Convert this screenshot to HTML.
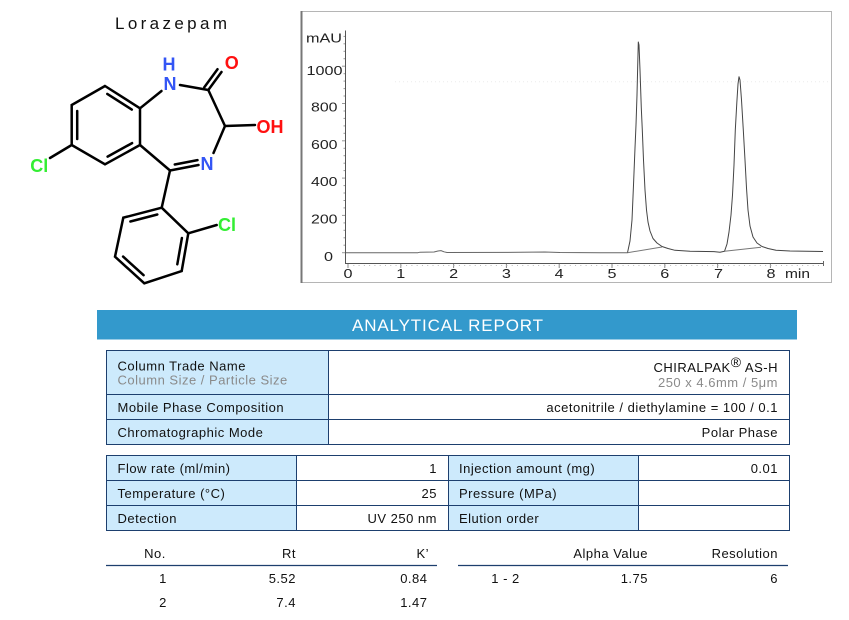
<!DOCTYPE html>
<html>
<head>
<meta charset="utf-8">
<style>
  html,body{margin:0;padding:0;background:#fff;}
  svg{display:block;}
  .t{font-family:"Liberation Sans",Arial,sans-serif;font-size:13px;fill:#111;letter-spacing:0.5px;}
  .g{fill:#8a8a8a;}
  .ax{font-family:"Liberation Sans",Arial,sans-serif;font-size:13px;fill:#222;}
  .at{font-family:"Liberation Sans",Arial,sans-serif;font-size:18px;font-weight:bold;text-anchor:middle;}
</style>
</head>
<body>
<svg width="849" height="620" viewBox="0 0 849 620" xmlns="http://www.w3.org/2000/svg">
  <rect x="0" y="0" width="849" height="620" fill="#fff"/>

  <!-- ===== Molecule ===== -->
  <text x="115" y="29" font-family="Liberation Sans, Arial, sans-serif" font-size="17" fill="#111" textLength="112" lengthAdjust="spacing">Lorazepam</text>
  <g stroke="#000" stroke-width="2.5" stroke-linecap="round" fill="none">
    <!-- benzene fused -->
    <polyline points="105,86 140,108.3 140,145 105,164.3 71.7,145 71.7,105 105,86"/>
    <line x1="107.3" y1="93.9" x2="131.8" y2="109.6"/>
    <line x1="77.2" y1="111" x2="77.2" y2="139"/>
    <line x1="132.1" y1="143.1" x2="107.6" y2="156.6"/>
    <!-- Cl bond -->
    <line x1="71.7" y1="145" x2="50" y2="158"/>
    <!-- 7-ring -->
    <line x1="140" y1="108.3" x2="161.5" y2="91"/>
    <line x1="180" y1="85" x2="208.3" y2="90"/>
    <line x1="208.3" y1="90" x2="221.5" y2="72"/>
    <line x1="204.3" y1="87.2" x2="217.5" y2="69.2"/>
    <line x1="208.3" y1="90" x2="225" y2="126"/>
    <line x1="225" y1="126" x2="255" y2="125"/>
    <line x1="225" y1="126" x2="213.5" y2="153"/>
    <line x1="198.5" y1="165" x2="170" y2="170.5"/>
    <line x1="197.5" y1="160.1" x2="174.8" y2="164.5"/>
    <line x1="170" y1="170.5" x2="140" y2="145"/>
    <!-- to phenyl -->
    <line x1="170" y1="170.5" x2="161.7" y2="207.7"/>
    <!-- phenyl -->
    <polyline points="161.7,207.7 188.3,233.3 181.7,271 144.3,283.3 115,256.7 123.3,217.7 161.7,207.7"/>
    <line x1="157.3" y1="214.5" x2="130.4" y2="221.5"/>
    <line x1="181.9" y1="238" x2="177.3" y2="264.3"/>
    <line x1="143.6" y1="275.2" x2="123.1" y2="256.6"/>
    <line x1="188.3" y1="233.3" x2="216.7" y2="225"/>
  </g>
  <text class="at" x="169" y="70.5" fill="#3355f5">H</text>
  <text class="at" x="170" y="89.8" fill="#3355f5">N</text>
  <text class="at" x="231.7" y="68.8" fill="#ff1010">O</text>
  <text class="at" x="270" y="133.2" fill="#ff1010">OH</text>
  <text class="at" x="207" y="169.8" fill="#3355f5">N</text>
  <text class="at" x="39.3" y="172.2" fill="#33ee33">Cl</text>
  <text class="at" x="227" y="230.8" fill="#33ee33">Cl</text>

  <!-- ===== Chromatogram ===== -->
  <rect x="301.5" y="11.5" width="530" height="271" fill="#fff" stroke="#b5b5b5" stroke-width="1"/>
  <line x1="301.5" y1="11" x2="301.5" y2="283" stroke="#777" stroke-width="2"/>
  <line x1="395" y1="81.7" x2="831" y2="81.7" stroke="#ececec" stroke-width="1" stroke-dasharray="1,3"/>

  <!-- axes -->
  <line x1="345.5" y1="30.5" x2="345.5" y2="263.5" stroke="#555" stroke-width="1"/>
  <line x1="345" y1="263.5" x2="823.5" y2="263.5" stroke="#555" stroke-width="1"/>
  <line x1="823.5" y1="261" x2="823.5" y2="266" stroke="#666" stroke-width="1"/>
  <!-- y ticks -->
  <g stroke="#999" stroke-width="1">
    <line x1="342" y1="252.7" x2="345" y2="252.7"/>
    <line x1="343.5" y1="245.2" x2="345" y2="245.2"/>
    <line x1="343.5" y1="237.8" x2="345" y2="237.8"/>
    <line x1="343.5" y1="230.3" x2="345" y2="230.3"/>
    <line x1="343.5" y1="222.9" x2="345" y2="222.9"/>
    <line x1="342" y1="215.4" x2="345" y2="215.4"/>
    <line x1="343.5" y1="207.9" x2="345" y2="207.9"/>
    <line x1="343.5" y1="200.5" x2="345" y2="200.5"/>
    <line x1="343.5" y1="193" x2="345" y2="193"/>
    <line x1="343.5" y1="185.6" x2="345" y2="185.6"/>
    <line x1="342" y1="178.1" x2="345" y2="178.1"/>
    <line x1="343.5" y1="170.6" x2="345" y2="170.6"/>
    <line x1="343.5" y1="163.2" x2="345" y2="163.2"/>
    <line x1="343.5" y1="155.7" x2="345" y2="155.7"/>
    <line x1="343.5" y1="148.3" x2="345" y2="148.3"/>
    <line x1="342" y1="140.8" x2="345" y2="140.8"/>
    <line x1="343.5" y1="133.3" x2="345" y2="133.3"/>
    <line x1="343.5" y1="125.9" x2="345" y2="125.9"/>
    <line x1="343.5" y1="118.4" x2="345" y2="118.4"/>
    <line x1="343.5" y1="111" x2="345" y2="111"/>
    <line x1="342" y1="103.5" x2="345" y2="103.5"/>
    <line x1="343.5" y1="96" x2="345" y2="96"/>
    <line x1="343.5" y1="88.6" x2="345" y2="88.6"/>
    <line x1="343.5" y1="81.1" x2="345" y2="81.1"/>
    <line x1="343.5" y1="73.7" x2="345" y2="73.7"/>
    <line x1="342" y1="66.2" x2="345" y2="66.2"/>
    <line x1="343.5" y1="58.7" x2="345" y2="58.7"/>
    <line x1="343.5" y1="51.3" x2="345" y2="51.3"/>
    <line x1="343.5" y1="43.8" x2="345" y2="43.8"/>
    <line x1="343.5" y1="36.4" x2="345" y2="36.4"/>
  </g>
  <!-- x ticks -->
  <g stroke="#888" stroke-width="1">
    <line x1="348" y1="264" x2="348" y2="268"/>
    <line x1="400.8" y1="264" x2="400.8" y2="268"/>
    <line x1="453.6" y1="264" x2="453.6" y2="268"/>
    <line x1="506.4" y1="264" x2="506.4" y2="268"/>
    <line x1="559.2" y1="264" x2="559.2" y2="268"/>
    <line x1="612" y1="264" x2="612" y2="268"/>
    <line x1="664.8" y1="264" x2="664.8" y2="268"/>
    <line x1="717.6" y1="264" x2="717.6" y2="268"/>
    <line x1="770.4" y1="264" x2="770.4" y2="268"/>
  </g>
  <g stroke="#bbb" stroke-width="1" stroke-dasharray="1,4.28">
    <line x1="353.3" y1="265.5" x2="823" y2="265.5"/>
  </g>

  <!-- labels -->
  <text class="ax" x="306" y="42.5" textLength="36" lengthAdjust="spacingAndGlyphs">mAU</text>
  <text class="ax" x="306.5" y="75" textLength="36" lengthAdjust="spacingAndGlyphs">1000</text>
  <text class="ax" x="311" y="111.6" textLength="26.5" lengthAdjust="spacingAndGlyphs">800</text>
  <text class="ax" x="311" y="149" textLength="26.5" lengthAdjust="spacingAndGlyphs">600</text>
  <text class="ax" x="311" y="186.2" textLength="26.5" lengthAdjust="spacingAndGlyphs">400</text>
  <text class="ax" x="311" y="223.6" textLength="26.5" lengthAdjust="spacingAndGlyphs">200</text>
  <text class="ax" x="324" y="261" textLength="9" lengthAdjust="spacingAndGlyphs">0</text>

  <text class="ax" x="343.5" y="278" textLength="9" lengthAdjust="spacingAndGlyphs">0</text>
  <text class="ax" x="396.3" y="278" textLength="9" lengthAdjust="spacingAndGlyphs">1</text>
  <text class="ax" x="449.1" y="278" textLength="9" lengthAdjust="spacingAndGlyphs">2</text>
  <text class="ax" x="501.9" y="278" textLength="9" lengthAdjust="spacingAndGlyphs">3</text>
  <text class="ax" x="554.7" y="278" textLength="9" lengthAdjust="spacingAndGlyphs">4</text>
  <text class="ax" x="607.5" y="278" textLength="9" lengthAdjust="spacingAndGlyphs">5</text>
  <text class="ax" x="660.3" y="278" textLength="9" lengthAdjust="spacingAndGlyphs">6</text>
  <text class="ax" x="714" y="278" textLength="9" lengthAdjust="spacingAndGlyphs">7</text>
  <text class="ax" x="766.5" y="278" textLength="9" lengthAdjust="spacingAndGlyphs">8</text>
  <text class="ax" x="785" y="278" textLength="25" lengthAdjust="spacingAndGlyphs">min</text>

  <!-- trace -->
  <polyline fill="none" stroke="#666" stroke-width="1" stroke-linejoin="round"
    points="346,252.7 418,252.7 420,252.2 434,252 438,251 441,250.6 444,251.8 447,252.5 520,252.3 545,252 560,252.5 600,252.7 627.5,252.7"/>
  <polyline fill="none" stroke="#444" stroke-width="1" stroke-linejoin="round"
    points="627.5,252.7 630,241 632,220 633.5,185 635,148 636,125 637,95 637.8,62 638.3,42 639,45 640,70 641.3,108 642.3,130 643.5,160 645,190 646.5,210 648,222 650,231 653,238.5 657,243 662,246.5 668,248.5 675,250.3 690,251.2 714,251.6 720,252.3 724.5,251.3 727,244 729,232 731,215 732.5,195 734,165 735.3,130 736.8,103 738,84 739,76.7 740,80 741.5,100 743.3,130 745,160 746.5,188 748,210 750,226 753,237 757,243 762,246.5 768,248.5 776,250.3 790,251 823,251.5"/>
  <line x1="627.5" y1="252.7" x2="662" y2="247" stroke="#777" stroke-width="1"/>
  <line x1="724.5" y1="251.3" x2="761" y2="247.3" stroke="#777" stroke-width="1"/>

  <!-- ===== Report header ===== -->
  <rect x="97" y="310" width="700" height="29.5" fill="#3399cc"/>
  <text x="352" y="331" font-family="Liberation Sans, Arial, sans-serif" font-size="17" fill="#fff" textLength="191" lengthAdjust="spacing">ANALYTICAL REPORT</text>

  <!-- ===== Table 1 ===== -->
  <rect x="106.5" y="350.5" width="222" height="94" fill="#cdeafc"/>
  <g stroke="#1d3f6e" stroke-width="1" fill="none">
    <rect x="106.5" y="350.5" width="683" height="94"/>
    <line x1="106.5" y1="394.5" x2="789.5" y2="394.5"/>
    <line x1="106.5" y1="419.5" x2="789.5" y2="419.5"/>
    <line x1="328.5" y1="350.5" x2="328.5" y2="444.5"/>
  </g>
  <text class="t" x="117.5" y="370.5">Column Trade Name</text>
  <text class="t g" x="117.5" y="384.5">Column Size / Particle Size</text>
  <text class="t" x="778" y="372" text-anchor="end">CHIRALPAK<tspan font-size="14" dy="-5">®</tspan><tspan dy="5"> AS-H</tspan></text>
  <text class="t g" x="778" y="387" text-anchor="end">250 x 4.6mm / 5μm</text>
  <text class="t" x="117.5" y="412">Mobile Phase Composition</text>
  <text class="t" x="778" y="412" text-anchor="end">acetonitrile / diethylamine = 100 / 0.1</text>
  <text class="t" x="117.5" y="437">Chromatographic Mode</text>
  <text class="t" x="778" y="437" text-anchor="end">Polar Phase</text>

  <!-- ===== Table 2 ===== -->
  <rect x="106.5" y="455.5" width="190.5" height="75" fill="#cdeafc"/>
  <rect x="448.5" y="455.5" width="189.5" height="75" fill="#cdeafc"/>
  <g stroke="#1d3f6e" stroke-width="1" fill="none">
    <rect x="106.5" y="455.5" width="683" height="75"/>
    <line x1="106.5" y1="480.5" x2="789.5" y2="480.5"/>
    <line x1="106.5" y1="505.5" x2="789.5" y2="505.5"/>
    <line x1="296.5" y1="455.5" x2="296.5" y2="530.5"/>
    <line x1="448.5" y1="455.5" x2="448.5" y2="530.5"/>
    <line x1="638.5" y1="455.5" x2="638.5" y2="530.5"/>
  </g>
  <text class="t" x="117.5" y="473">Flow rate (ml/min)</text>
  <text class="t" x="437" y="473" text-anchor="end">1</text>
  <text class="t" x="459" y="473">Injection amount (mg)</text>
  <text class="t" x="778" y="473" text-anchor="end">0.01</text>
  <text class="t" x="117.5" y="498">Temperature (°C)</text>
  <text class="t" x="437" y="498" text-anchor="end">25</text>
  <text class="t" x="459" y="498">Pressure (MPa)</text>
  <text class="t" x="117.5" y="523">Detection</text>
  <text class="t" x="437" y="523" text-anchor="end">UV 250 nm</text>
  <text class="t" x="459" y="523">Elution order</text>

  <!-- ===== Results ===== -->
  <text class="t" x="155" y="558" text-anchor="middle">No.</text>
  <text class="t" x="296" y="558" text-anchor="end">Rt</text>
  <text class="t" x="429" y="558" text-anchor="end">K’</text>
  <text class="t" x="648" y="558" text-anchor="end">Alpha Value</text>
  <text class="t" x="778" y="558" text-anchor="end">Resolution</text>
  <line x1="106" y1="565.5" x2="437" y2="565.5" stroke="#1d3f6e" stroke-width="1.2"/>
  <line x1="458" y1="565.5" x2="788" y2="565.5" stroke="#1d3f6e" stroke-width="1.2"/>
  <text class="t" x="163" y="583" text-anchor="middle">1</text>
  <text class="t" x="296" y="583" text-anchor="end">5.52</text>
  <text class="t" x="427.5" y="583" text-anchor="end">0.84</text>
  <text class="t" x="505.5" y="583" text-anchor="middle">1 - 2</text>
  <text class="t" x="648" y="583" text-anchor="end">1.75</text>
  <text class="t" x="778" y="583" text-anchor="end">6</text>
  <text class="t" x="163" y="607" text-anchor="middle">2</text>
  <text class="t" x="296" y="607" text-anchor="end">7.4</text>
  <text class="t" x="427.5" y="607" text-anchor="end">1.47</text>
</svg>
</body>
</html>
